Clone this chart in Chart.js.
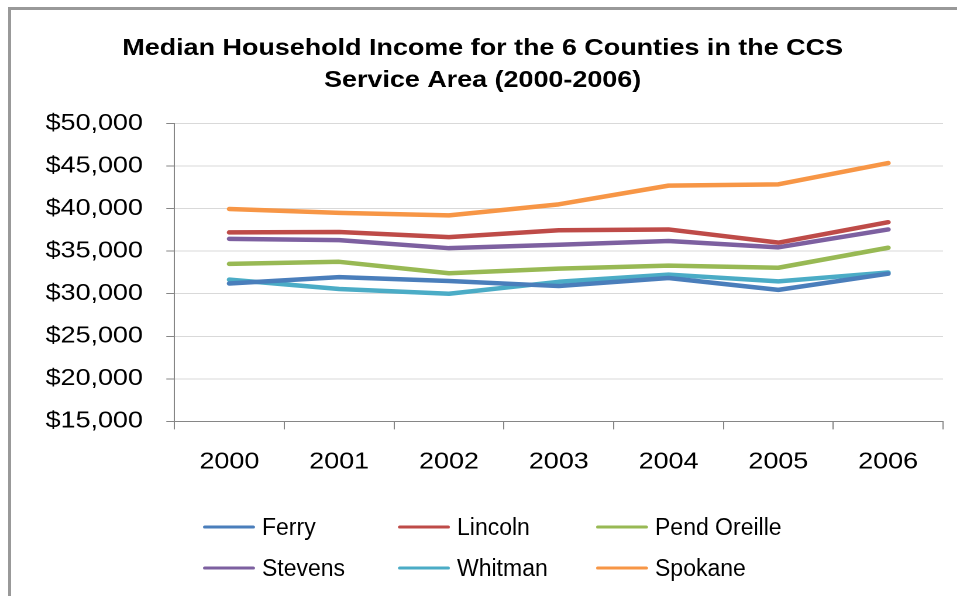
<!DOCTYPE html>
<html>
<head>
<meta charset="utf-8">
<script src="https://cdn.jsdelivr.net/npm/chart.js@4.4.1/dist/chart.umd.min.js"></script>
<style>
  html, body { margin: 0; padding: 0; background: #fff; overflow: hidden; width: 957px; height: 596px; }
  #frame { position: absolute; left: 8px; top: 7px; width: 1000px; height: 700px; border: 3px solid #999; }
  /* chart is laid out at 818px and widened to fill the panel */
  #stage { position: absolute; left: 0; top: 0; width: 818px; height: 596px; transform: scaleX(1.17); transform-origin: 0 0; }
  #wrap { position: absolute; left: 0; top: 0; width: 818px; height: 596px; }
  .item { position: absolute; display: flex; align-items: center; transform: translateY(-50%);
          font: 23px "Liberation Sans", Arial, sans-serif; color: #000; white-space: nowrap; }
  .swatch { width: 52px; height: 3px; margin-right: 7px; border-radius: 2px; }
</style>
</head>
<body>
<div id="frame"></div>
<div id="stage">
  <div id="wrap"><canvas id="incomeChart"></canvas></div>
</div>
<div id="legend"></div>
<script>
const years = ["2000", "2001", "2002", "2003", "2004", "2005", "2006"];

const ferry       = [31200, 31950, 31500, 30900, 31850, 30450, 32350];
const lincoln     = [37200, 37250, 36650, 37450, 37550, 36000, 38400];
const pendOreille = [33500, 33750, 32400, 32950, 33300, 33050, 35400];
const stevens     = [36450, 36300, 35350, 35750, 36200, 35450, 37550];
const whitman     = [31650, 30550, 30000, 31400, 32250, 31450, 32500];
const spokane     = [39950, 39500, 39200, 40500, 42700, 42850, 45350];

const countyNames  = ["Ferry", "Lincoln", "Pend Oreille", "Stevens", "Whitman", "Spokane"];
const countyColors = ["#4A7EBB", "#BE4B48", "#98B954", "#7D60A0", "#4BACC6", "#F79646"];
const countyValues = [ferry, lincoln, pendOreille, stevens, whitman, spokane];

const yMin = 15000;
const yMax = 50000;
const yStep = 5000;

const titleLines = ["Median Household Income for the 6 Counties in the CCS", "Service Area (2000-2006)"];

const fontFamily = '"Liberation Sans", Arial, sans-serif';

let datasets = countyNames.map((name, i) => ({
  label: name,
  data: countyValues[i],
  borderColor: countyColors[i],
  backgroundColor: countyColors[i],
  borderWidth: 4.5,
  borderCapStyle: 'round',
  borderJoinStyle: 'round',
  pointRadius: 0,
  tension: 0,
  fill: false
}));

new Chart(document.getElementById('incomeChart'), {
  type: 'line',
  data: { labels: years, datasets: datasets },
  options: {
    responsive: true,
    maintainAspectRatio: false,
    animation: false,
    devicePixelRatio: 2,
    layout: { padding: { left: 19, right: 12, top: 0, bottom: 101 } },
    plugins: {
      legend: { display: false },
      tooltip: { enabled: false },
      title: {
        display: true,
        text: titleLines,
        color: '#000',
        font: { family: fontFamily, size: 23, weight: 'bold', lineHeight: 1.38 },
        padding: { top: 33, bottom: 27 }
      }
    },
    scales: {
      x: {
        offset: true,
        grid: { display: true, drawOnChartArea: false, offset: true, tickLength: 8, tickColor: '#868686' },
        border: { color: '#868686', width: 1 },
        ticks: { color: '#000', padding: 19, font: { family: fontFamily, size: 23 } }
      },
      y: {
        min: yMin,
        max: yMax,
        grid: { color: '#d9d9d9', lineWidth: 1, tickLength: 7, tickColor: '#868686' },
        border: { color: '#868686', width: 1 },
        ticks: {
          stepSize: yStep,
          color: '#000',
          padding: 20,
          font: { family: fontFamily, size: 23 },
          callback: (v) => '$' + v.toLocaleString('en-US')
        }
      }
    }
  }
});

// legend laid out as a 3 x 2 grid under the axis
const legendCols = [203, 398, 596];
const legendRows = [527, 568];
const legend = document.getElementById('legend');
countyNames.forEach((name, i) => {
  let item = document.createElement('div');
  item.className = 'item';
  item.style.left = legendCols[i % 3] + 'px';
  item.style.top = legendRows[Math.floor(i / 3)] + 'px';
  item.innerHTML = '<span class="swatch" style="background:' + countyColors[i] + '"></span>' + name;
  legend.appendChild(item);
});
</script>
</body>
</html>
